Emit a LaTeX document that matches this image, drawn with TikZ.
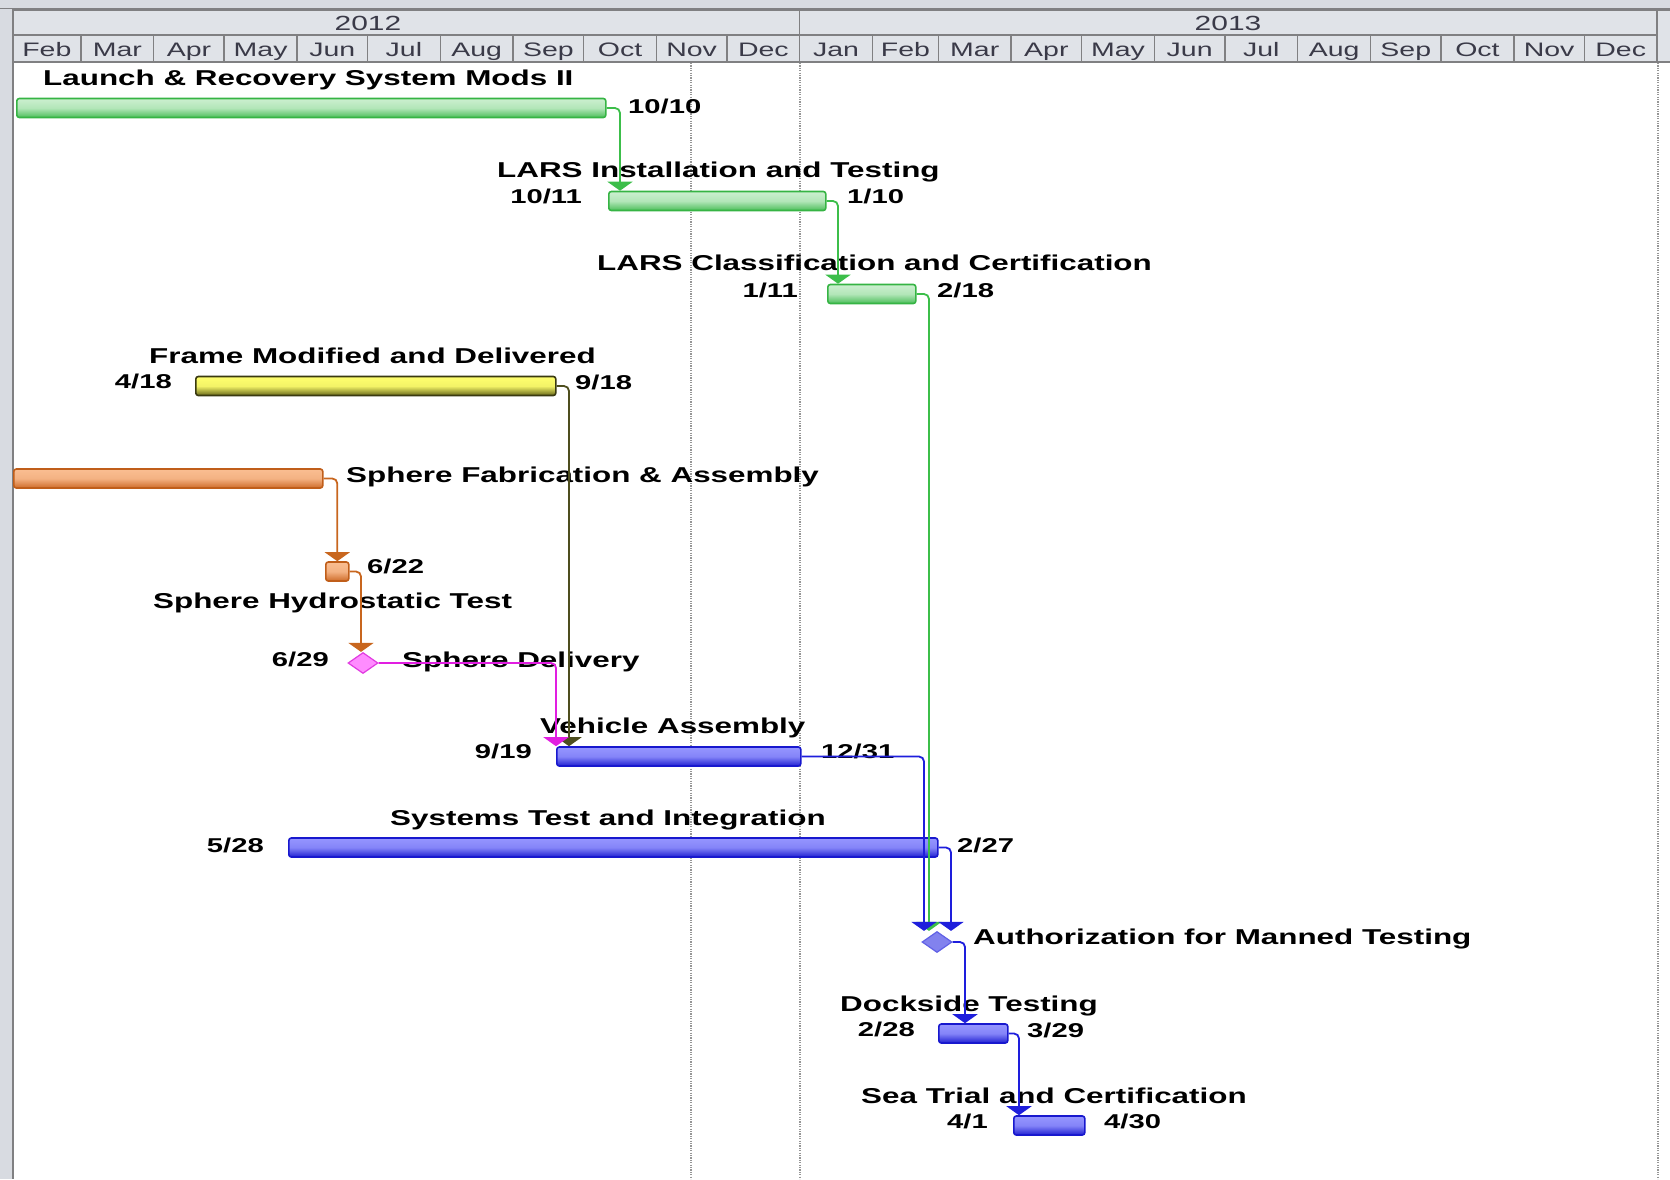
\documentclass[tikz,border=0pt]{standalone}
\usepackage{fontspec}
\newfontfamily\ganttfont{Liberation Sans}[FakeStretch=1.46]
\usepackage{tikz}
\usetikzlibrary{positioning}
\usetikzlibrary{shapes.geometric}
\usetikzlibrary{arrows.meta}

\definecolor{hdrfill}{RGB}{224,227,232}
\definecolor{hdrline}{RGB}{128,128,130}
\definecolor{hdrtext}{RGB}{58,58,72}
\definecolor{stripgray}{RGB}{216,219,225}
\definecolor{gridgray}{RGB}{150,150,150}
\definecolor{grnedge}{RGB}{54,180,68}
\definecolor{grntop}{RGB}{204,240,208}
\definecolor{grnbot}{RGB}{76,190,90}
\definecolor{ylwedge}{RGB}{58,58,16}
\definecolor{ylwtop}{RGB}{255,255,110}
\definecolor{ylwbot}{RGB}{104,104,26}
\definecolor{orgedge}{RGB}{192,94,26}
\definecolor{orgtop}{RGB}{250,190,146}
\definecolor{orgbot}{RGB}{206,108,42}
\definecolor{bluedge}{RGB}{24,24,206}
\definecolor{blutop}{RGB}{150,150,255}
\definecolor{blubot}{RGB}{32,32,210}
\definecolor{pnkedge}{RGB}{225,60,225}
\definecolor{pnkfill}{RGB}{255,140,255}
\definecolor{authfill}{RGB}{130,130,238}
\definecolor{linkgrn}{RGB}{60,190,74}
\definecolor{linkolv}{RGB}{78,78,30}
\definecolor{linkorg}{RGB}{200,102,30}
\definecolor{linkpnk}{RGB}{225,30,225}
\definecolor{linkblu}{RGB}{30,30,220}

\begin{document}
\begin{tikzpicture}[x=1pt, y=-1pt,
  bar/.style={rounded corners=2.5pt, line width=1.6pt, minimum height=19pt, inner sep=0pt, anchor=west},
  greenbar/.style={bar, draw=grnedge, top color=grntop, bottom color=grnbot, middle color=grntop!80!grnbot},
  yellowbar/.style={bar, draw=ylwedge, top color=ylwtop, bottom color=ylwbot, middle color=ylwtop!92!ylwbot},
  orangebar/.style={bar, draw=orgedge, top color=orgtop, bottom color=orgbot, middle color=orgtop!85!orgbot},
  bluebar/.style={bar, draw=bluedge, top color=blutop, bottom color=blubot, middle color=blutop!85!blubot},
  milestone/.style={diamond, inner sep=0pt, minimum width=30pt, minimum height=21pt, line width=1.2pt},
  task/.style={font=\ganttfont\bfseries\fontsize{21.5}{24}\selectfont, inner sep=0pt, anchor=base west},
  date/.style={font=\ganttfont\bfseries\fontsize{20}{22}\selectfont, inner sep=0pt, anchor=base west},
  hdrlabel/.style={font=\ganttfont\fontsize{19.5}{22}\selectfont, text=hdrtext, inner sep=0pt, anchor=base},
  hdrcell/.style={draw=hdrline, fill=hdrfill, line width=1.5pt},
  statusline/.style={gridgray, line width=1.4pt, dash pattern=on 1.2pt off 1.2pt},
  link/.style={line width=1.8pt, rounded corners=5pt, -{Triangle[width=25pt,length=9pt]}}]

  \useasboundingbox (0,0) rectangle (1670,1179);

  % frame and time scale
  \fill[stripgray] (0,0) rectangle (1670,9);
  \draw[hdrline, line width=1pt] (0,8.5) -- (1670,8.5);
  \fill[stripgray] (0,9) rectangle (12,1179);
  \draw[hdrline, line width=1.5pt] (13,10) -- (13,1179);
  \draw[hdrcell] (1657,10) rectangle (1672,62);

  \draw[hdrcell] (12.8,10) rectangle (799.7,35);
  \draw[hdrcell] (799.7,10) rectangle (1657,35);
  \node[hdrlabel, font=\ganttfont\fontsize{20.5}{22}\selectfont] (y2012) at (368,30) {2012};
  \node[hdrlabel, font=\ganttfont\fontsize{20.5}{22}\selectfont] (y2013) at (1228,30) {2013};

  \foreach \mname/\da/\db [count=\i] in {Feb/0/29, Mar/29/60, Apr/60/90, May/90/121,
      Jun/121/151, Jul/151/182, Aug/182/213, Sep/213/243, Oct/243/274, Nov/274/304,
      Dec/304/335, Jan/335/366, Feb/366/394, Mar/394/425, Apr/425/455, May/455/486,
      Jun/486/516, Jul/516/547, Aug/547/578, Sep/578/608, Oct/608/639, Nov/639/669,
      Dec/669/700} {
    \pgfmathsetmacro\xa{12.8+2.349*\da}
    \pgfmathsetmacro\xb{12.8+2.349*\db}
    \draw[hdrcell] (\xa,35) rectangle (\xb,62);
    \node[hdrlabel] (mon\i) at ({(\xa+\xb)/2},56.5) {\mname};
  }

  \draw[statusline] (691,63) -- (691,1179);
  \draw[statusline] (800,63) -- (800,1179);
  \draw[statusline] (1658,63) -- (1658,1179);

  % task bars and milestones
  \node[greenbar, minimum width=589pt] (launch) at (16,108) {};
  \node[greenbar, minimum width=217pt] (linst) at (608,201) {};
  \node[greenbar, minimum width=88pt] (lclass) at (827,294) {};
  \node[yellowbar, minimum width=360pt] (frame) at (195,386) {};
  \node[orangebar, minimum width=309pt] (fab) at (13,478.5) {};
  \node[orangebar, minimum width=23pt] (hydro) at (325,571.5) {};
  \node[milestone, draw=pnkedge, fill=pnkfill] (delivery) at (363,663) {};
  \node[bluebar, minimum width=244pt] (vehicle) at (556,756.5) {};
  \node[bluebar, minimum width=649pt] (systems) at (288,847.5) {};
  \node[milestone, draw=linkblu!70, fill=authfill] (auth) at (937,942) {};
  \node[bluebar, minimum width=69pt] (dock) at (938,1033.5) {};
  \node[bluebar, minimum width=71pt] (sea) at (1013,1125.5) {};

  % names and dates
  \node[task] (launch-name) at (43,85) {Launch \& Recovery System Mods II};
  \node[date] (launch-end) at (628,113) {10/10};
  \node[task] (linst-name) at (497,177) {LARS Installation and Testing};
  \node[date, anchor=base east] (linst-start) at (582,203) {10/11};
  \node[date] (linst-end) at (847,203) {1/10};
  \node[task] (lclass-name) at (597,270) {LARS Classification and Certification};
  \node[date, anchor=base east] (lclass-start) at (798,297) {1/11};
  \node[date] (lclass-end) at (937,297) {2/18};
  \node[task] (frame-name) at (149,363) {Frame Modified and Delivered};
  \node[date, anchor=base east] (frame-start) at (172,388) {4/18};
  \node[date] (frame-end) at (575,389) {9/18};
  \node[task] (fab-name) at (346,482) {Sphere Fabrication \& Assembly};
  \node[date] (hydro-date) at (367,573) {6/22};
  \node[task] (hydro-name) at (153,608) {Sphere Hydrostatic Test};
  \node[date, anchor=base east] (delivery-date) at (329,666) {6/29};
  \node[task] (delivery-name) at (402,667) {Sphere Delivery};
  \node[task] (vehicle-name) at (540,733) {Vehicle Assembly};
  \node[date, anchor=base east] (vehicle-start) at (532,758) {9/19};
  \node[date] (vehicle-end) at (821,758) {12/31};
  \node[task] (systems-name) at (390,825) {Systems Test and Integration};
  \node[date, anchor=base east] (systems-start) at (264,852) {5/28};
  \node[date] (systems-end) at (957,852) {2/27};
  \node[task] (auth-name) at (973,944) {Authorization for Manned Testing};
  \node[task] (dock-name) at (840,1011) {Dockside Testing};
  \node[date, anchor=base east] (dock-start) at (915,1036) {2/28};
  \node[date] (dock-end) at (1027,1037) {3/29};
  \node[task] (sea-name) at (861,1103) {Sea Trial and Certification};
  \node[date, anchor=base east] (sea-start) at (988,1128) {4/1};
  \node[date] (sea-end) at (1104,1128) {4/30};

  % dependencies
  \draw[link, linkgrn] (launch.east) -| ([xshift=12pt]linst.north west);
  \draw[link, linkgrn] (linst.east) -| ([xshift=11pt]lclass.north west);
  \draw[link, linkgrn] (lclass.east) -| ([xshift=-8pt]auth.north);
  \draw[link, linkolv] (frame.east) -| ([xshift=13pt]vehicle.north west);
  \draw[link, linkorg] (fab.east) -| (hydro.north);
  \draw[link, linkorg] (hydro.east) -| ([xshift=-2pt]delivery.north);
  \draw[link, linkpnk] (delivery.east) -| (vehicle.north west);
  \draw[link, linkblu] (vehicle.east) -| ([xshift=-13pt]auth.north);
  \draw[link, linkblu] (systems.east) -| ([xshift=14pt]auth.north);
  \draw[link, linkblu] (auth.east) -| ([xshift=27pt]dock.north west);
  \draw[link, linkblu] (dock.east) -| ([xshift=6pt]sea.north west);
\end{tikzpicture}
\end{document}
